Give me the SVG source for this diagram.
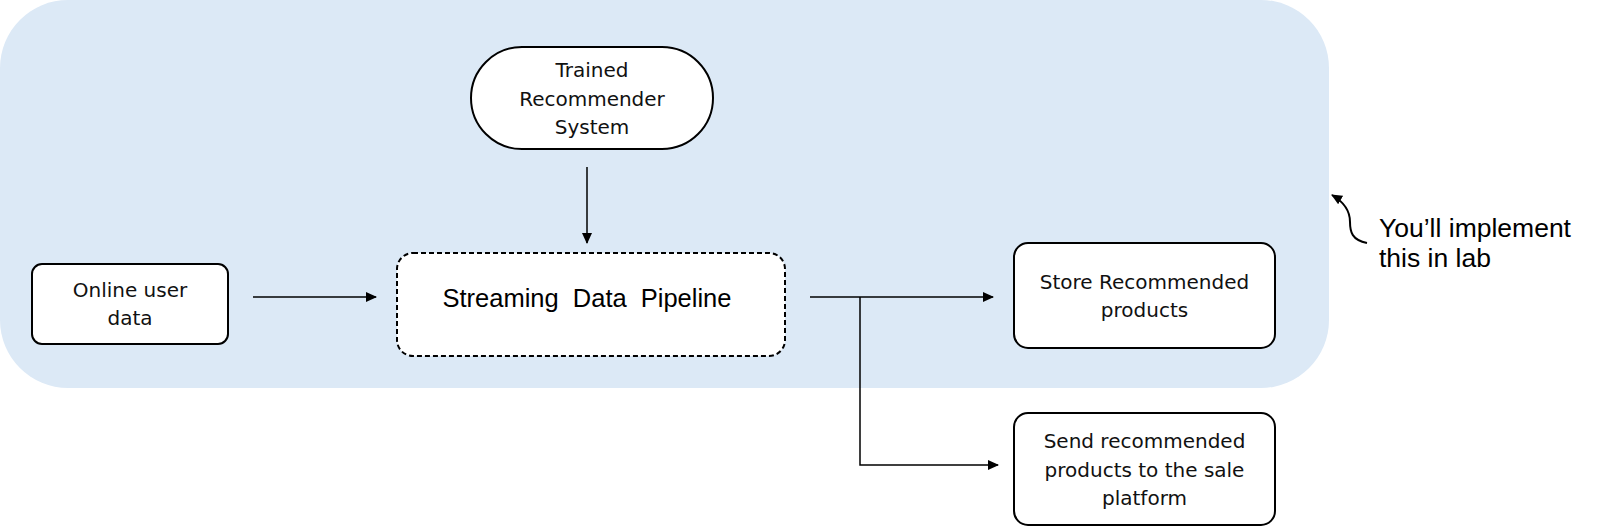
<svg xmlns="http://www.w3.org/2000/svg" width="1600" height="528" viewBox="0 0 1600 528">
<defs>
<style>
.box{fill:#fff;stroke:#000;stroke-width:2}
.t{font-family:"DejaVu Sans","Liberation Sans",Arial,sans-serif;font-size:20px;fill:#111;text-anchor:middle}
.c{fill:none;stroke:#000;stroke-width:1.5}
.n{font-family:"Liberation Sans",Arial,sans-serif;font-size:26.5px;fill:#000}
</style>
<marker id="ah" markerWidth="11" markerHeight="11" refX="10" refY="5.5" orient="auto" markerUnits="userSpaceOnUse"><path d="M0,0.5 L11,5.5 L0,10.5 Z" fill="#000"/></marker>
</defs>
<rect id="region" x="0" y="0" width="1329" height="388" rx="68" fill="#dce9f6"/>
<g id="online"><rect class="box" x="32" y="264" width="196" height="80" rx="10"/><text class="t" x="130" y="297">Online user</text><text class="t" x="130" y="325">data</text></g>
<g id="trained"><rect class="box" x="471" y="47" width="242" height="102" rx="51" stroke-width="1.6"/><text class="t" x="592" y="77">Trained</text><text class="t" x="592" y="106">Recommender</text><text class="t" x="592" y="134">System</text></g>
<g id="pipeline"><rect x="397" y="253" width="388" height="103" rx="16" fill="#fff" stroke="#000" stroke-width="2" stroke-dasharray="5,3"/><text x="587" y="307" text-anchor="middle" word-spacing="7" style="font-family:'Liberation Sans',Arial,sans-serif;font-size:25.5px;fill:#000">Streaming Data Pipeline</text></g>
<g id="store"><rect class="box" x="1014" y="243" width="261" height="105" rx="14"/><text class="t" x="1144.5" y="289">Store Recommended</text><text class="t" x="1144.5" y="317">products</text></g>
<g id="send"><rect class="box" x="1014" y="413" width="261" height="112" rx="14"/><text class="t" x="1144.5" y="448">Send recommended</text><text class="t" x="1144.5" y="477">products to the sale</text><text class="t" x="1144.5" y="505">platform</text></g>
<g id="note"><text class="n" x="1379" y="237">You’ll implement</text><text class="n" x="1379" y="267">this in lab</text></g>
<g id="connectors">
<line class="c" x1="253" y1="297" x2="376" y2="297" marker-end="url(#ah)"/>
<line class="c" x1="587" y1="167" x2="587" y2="243" marker-end="url(#ah)"/>
<line class="c" x1="810" y1="297" x2="993" y2="297" marker-end="url(#ah)"/>
<polyline class="c" points="860,297 860,465 998,465" marker-end="url(#ah)"/>
<path d="M1367,243 C1352,240 1350,232 1350,222 C1350,210 1344,202 1332,195" fill="none" stroke="#000" stroke-width="2" marker-end="url(#ah)"/>
</g>
</svg>
